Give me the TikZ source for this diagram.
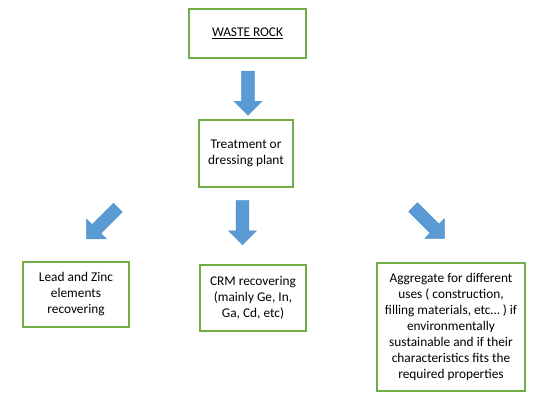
\documentclass[tikz,border=0pt]{standalone}
\usepackage{fontspec}
\setmainfont{Carlito}
\usetikzlibrary{shapes.arrows}
\definecolor{boxgreen}{HTML}{70AD47}
\definecolor{arrowblue}{HTML}{5B9BD5}
\definecolor{arrowedge}{HTML}{4F8FC9}
\begin{document}
\begin{tikzpicture}[x=0.75pt,y=-0.75pt]
      \useasboundingbox (0,0) rectangle (539,393);
      \begin{scope}[every node/.style={draw=boxgreen,line width=0.9pt,align=center,inner sep=0pt,
          font=\fontsize{10}{12}\selectfont}]
        \node[minimum width=87.75pt,minimum height=36.75pt] (waste) at (247.5,33.5) {\underline{WASTE ROCK}};
        \node[minimum width=70.5pt,minimum height=50.25pt] (plant) at (246,153.5) {Treatment or\\dressing plant};
        \node[minimum width=79.5pt,minimum height=48.75pt] (lead) at (76,294.5) {Lead and Zinc\\elements\\recovering};
        \node[minimum width=79.5pt,minimum height=49.5pt] (crm) at (253,298) {CRM recovering\\(mainly Ge, In,\\Ga, Cd, etc)};
        \node[minimum width=111pt,minimum height=96pt] (aggr) at (451,327) {Aggregate for different\\uses ( construction,\\filling materials, etc… ) if\\environmentally\\sustainable and if their\\characteristics fits the\\required properties};
      \end{scope}
      \begin{scope}[every node/.style={single arrow,fill=arrowblue,draw=arrowedge,line width=0.4pt,
          minimum height=33pt,minimum width=0pt,inner xsep=0pt,inner ysep=4.5pt,
          single arrow head extend=5.6pt}]
        \node[rotate=-90] (a1) at (248,90) {};
        \node[rotate=-90] (a2) at (242.5,219.5) {};
        \node[rotate=225] (a3) at (104.5,221) {};
        \node[rotate=-45] (a4) at (426.5,220.5) {};
      \end{scope}
    \end{tikzpicture}
\end{document}
